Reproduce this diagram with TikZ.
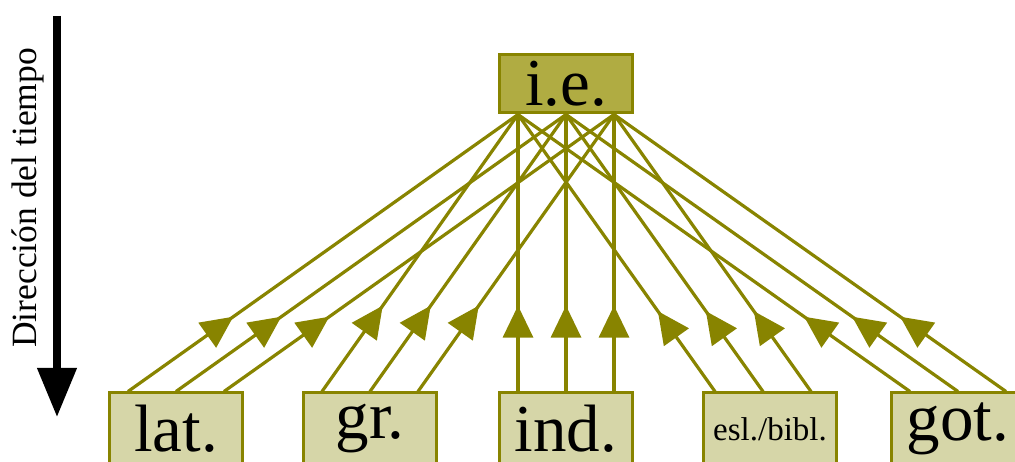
\documentclass[tikz,border=0pt]{standalone}
\usepackage{fontspec}
\setmainfont{Liberation Serif}
\usetikzlibrary{arrows.meta,decorations.markings}

\definecolor{olivedk}{RGB}{136,132,0}
\definecolor{topfill}{RGB}{176,172,66}
\definecolor{leaffill}{RGB}{214,214,168}

\tikzset{
  root/.style={draw=olivedk, line width=3pt, fill=topfill,
    minimum width=133pt, minimum height=58pt, inner sep=0pt,
    font=\rmfamily\fontsize{67}{67}\selectfont},
  leaf/.style={draw=olivedk, line width=3pt, fill=leaffill,
    minimum width=133pt, minimum height=72pt, inner sep=0pt,
    font=\rmfamily\fontsize{67}{67}\selectfont},
  link/.style={olivedk, line width=3.2pt, postaction={decorate},
    decoration={markings, mark=at position #1 with
      {\arrow{Triangle[length=32pt,width=30pt]}}}},
  timeline/.style={black, line width=7.5pt,
    -{Triangle[length=49pt,width=38pt]}},
}

\begin{document}
\begin{tikzpicture}[x=1pt, y=1pt]
  \useasboundingbox (0,0) rectangle (1015,462);
  \clip (0,0) rectangle (1015,462);

  % source and descendant languages
  \node[root] (ie)  at (566,378) {i.e.};
  \node[leaf] (lat) at (176,33) {lat.};
  \node[leaf] (gr)  at (370,33) {gr.};
  \node[leaf] (ind) at (566,33) {ind.};
  \node[leaf, font=\rmfamily\fontsize{33}{33}\selectfont] (esl) at (770,33) {esl./bibl.};
  \node[leaf] (got) at (958,33) {got.};

  % three links from each language up to i.e.
  \foreach \s in {-48,0,48} {
    \draw[link=0.27] ([xshift=\s pt]lat.north) -- ([xshift=\s pt]ie.south);
    \draw[link=0.31] ([xshift=\s pt]gr.north)  -- ([xshift=\s pt]ie.south);
    \draw[link=0.31] ([xshift=\s pt]ind.north) -- ([xshift=\s pt]ie.south);
    \draw[link=0.29] ([xshift=\s pt - 7pt]esl.north) -- ([xshift=\s pt]ie.south);
    \draw[link=0.27] ([xshift=\s pt]got.north) -- ([xshift=\s pt]ie.south);
  }

  % time axis
  \coordinate (tstart) at (57,446);
  \coordinate (tend) at (57,45);
  \draw[timeline] (tstart) -- (tend);
  \node[rotate=90, font=\rmfamily\fontsize{35.5}{36}\selectfont] (tlabel) at (28,264)
    {Dirección del tiempo};
\end{tikzpicture}
\end{document}
